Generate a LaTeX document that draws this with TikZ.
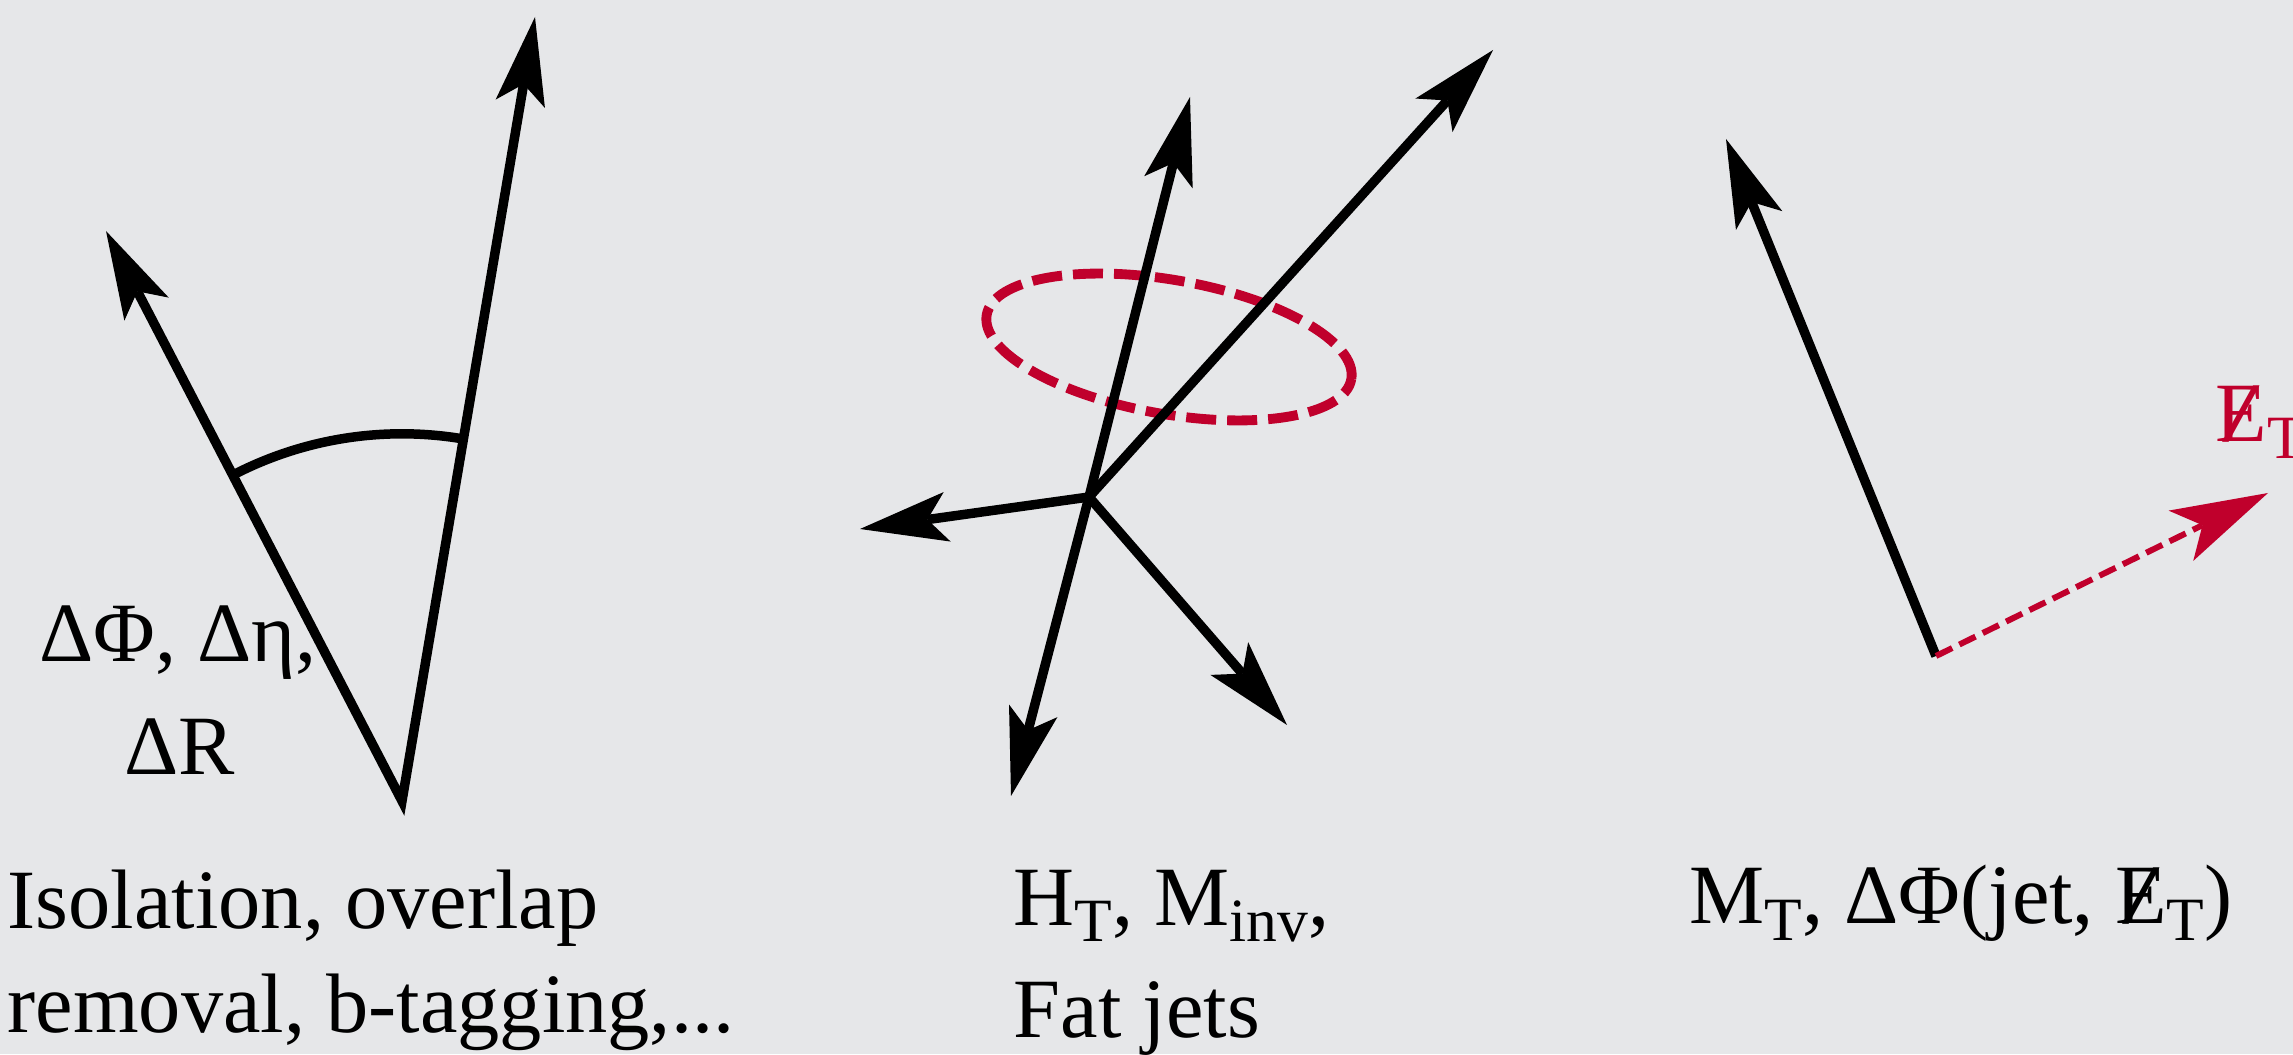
\documentclass[tikz,border=0pt]{standalone}
\usepackage{fontspec}
\setmainfont{Liberation Serif}
\usepackage{graphicx}
\usetikzlibrary{arrows.meta}
\definecolor{bgc}{RGB}{230,231,233}
\definecolor{cred}{RGB}{192,0,44}
\newcommand{\metE}{\ooalign{E\cr\hidewidth\scalebox{1.6}[1]{/}\hidewidth\cr}}
\newcommand{\sbs}[1]{\raisebox{-0.2em}{\fontsize{17.5}{20}\selectfont #1}}
\tikzset{
  tipblack/.tip={Stealth[length=0.88cm,width=0.5cm,inset=0.2cm,line width=0pt]},
  tipred/.tip={Stealth[length=0.97cm,width=0.56cm,inset=0.24cm,line width=0pt]},
  jet/.style={line width=2.7pt,-tipblack},
  lbl/.style={inner sep=0pt,font=\fontsize{24}{29}\selectfont,anchor=base west},
  clbl/.style={inner sep=0pt,font=\fontsize{24}{29}\selectfont,anchor=base},
}
\begin{document}
\begin{tikzpicture}[x=0.01cm,y=0.01cm]
\fill[bgc] (0,0) rectangle (2293,1054);
\useasboundingbox (0,0) rectangle (2293,1054);

% ---- left diagram
\coordinate (v1) at (402,253);
\coordinate (t1a) at (106,823);
\coordinate (t1b) at (535,1037);
\draw[line width=2.7pt,line join=miter,tipblack-tipblack] (t1a) -- (v1) -- (t1b);
\draw[line width=2.7pt] (v1) ++(117.4:3.67cm) arc[start angle=117.4,end angle=80.4,radius=3.67cm];
\node[clbl] (ang1) at (178,392) {ΔΦ, Δη,};
\node[clbl] (ang2) at (180,279) {ΔR};
\node[lbl] (txt1a) at (7,126) {Isolation, overlap};
\node[lbl] (txt1b) at (7,22) {removal, b-tagging,...};

% ---- middle diagram
\coordinate (v2) at (1089,557);
\coordinate (t2a) at (1190,957);
\coordinate (t2b) at (1493,1004);
\coordinate (t2c) at (860,525);
\coordinate (t2d) at (1011,258);
\coordinate (t2e) at (1287,329);
\draw[cred,line width=2.8pt,dash pattern=on 0.3cm off 0.11cm]
  (1169,707) ellipse[x radius=1.85cm,y radius=0.67cm,rotate=-10];
\draw[jet] (v2) -- (t2a);
\draw[jet] (v2) -- (t2b);
\draw[jet] (v2) -- (t2c);
\draw[jet] (v2) -- (t2d);
\draw[jet] (v2) -- (t2e);
\node[lbl] (txt2a) at (1013,129) {H\sbs{T}, M\sbs{inv},};
\node[lbl] (txt2b) at (1013,17) {Fat jets};

% ---- right diagram
\coordinate (v3) at (1936,398);
\coordinate (t3a) at (1726,915);
\coordinate (t3b) at (2268,561);
\draw[jet] (v3) -- (t3a);
\draw[cred,line width=1.7pt,dash pattern=on 0.18cm off 0.08cm,-tipred] (v3) -- (t3b);
\node[lbl,text=cred] (met) at (2215,612) {\metE\sbs{T}};
\node[lbl] (txt3) at (1689,130) {M\sbs{T}, ΔΦ(jet, \metE\sbs{T})};
\end{tikzpicture}
\end{document}
